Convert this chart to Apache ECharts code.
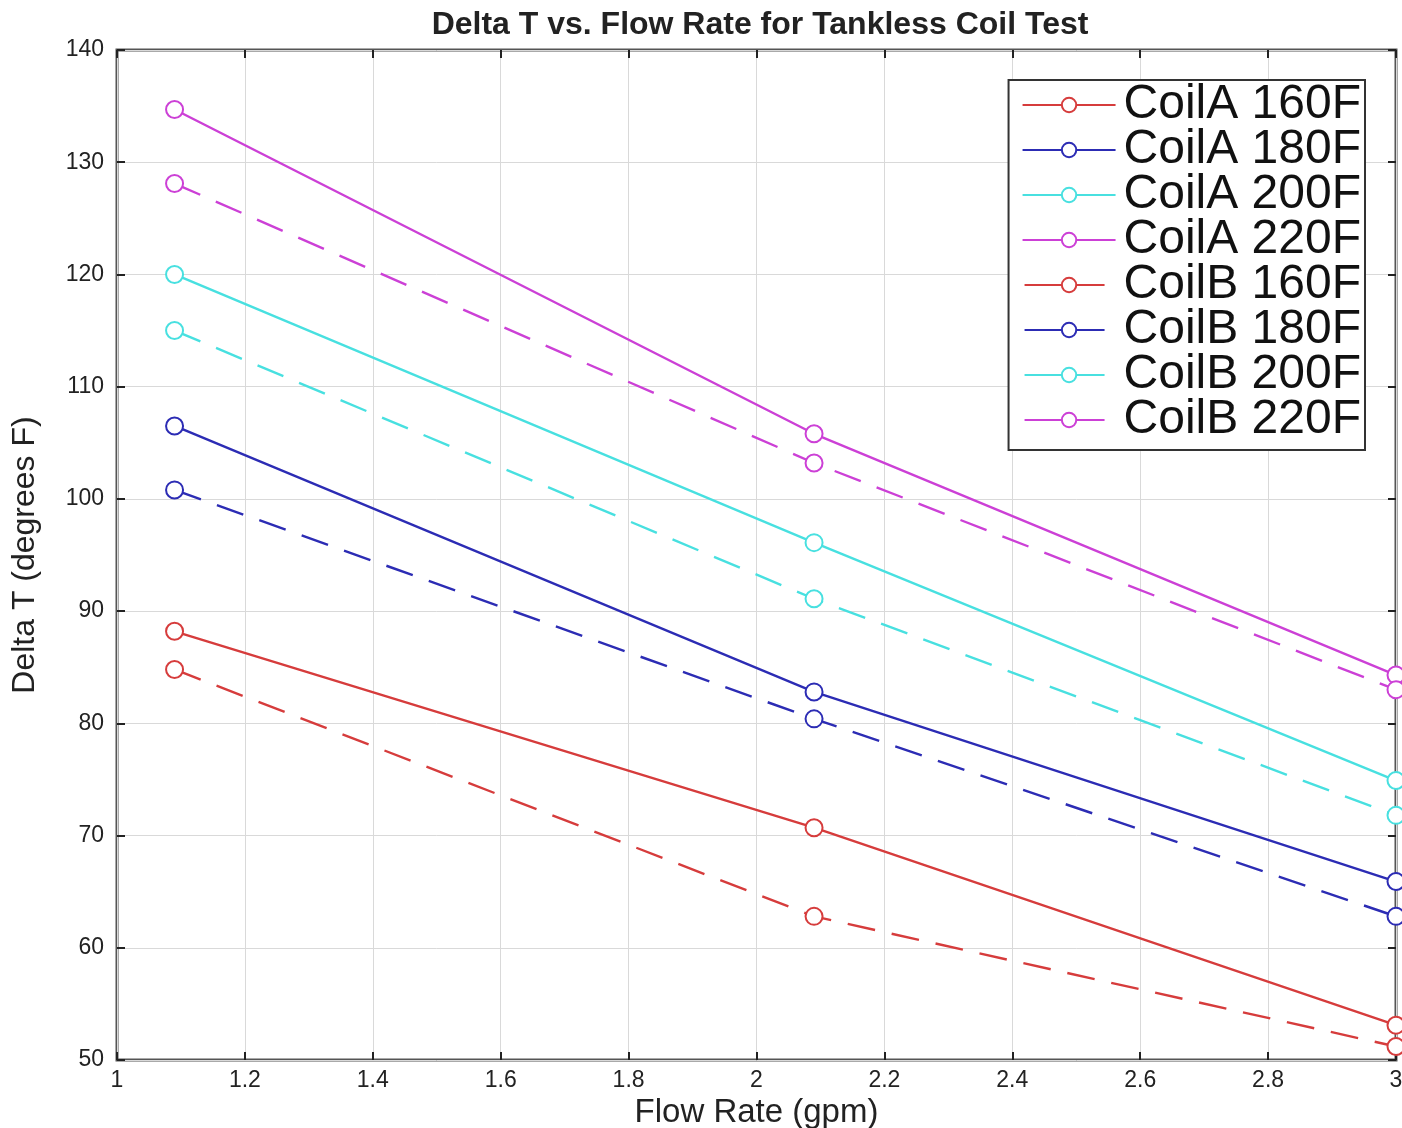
<!DOCTYPE html>
<html>
<head>
<meta charset="utf-8">
<script src="https://cdn.jsdelivr.net/npm/echarts@6/dist/echarts.min.js"></script>
<style>
  html, body { margin: 0; padding: 0; background: #fff; }
  #chart { width: 1402px; height: 1128px; }
</style>
</head>
<body>
<div id="chart"></div>
<script>
// Flow rates (gpm) at which each coil was tested
const flowRates = [1.09, 2.09, 3.0];

// Delta T (degrees F) per coil / boiler temperature
const coilA160 = [88.2, 70.7, 53.1];
const coilA180 = [106.5, 82.8, 65.9];
const coilA200 = [120.0, 96.1, 74.9];
const coilA220 = [134.7, 105.8, 84.3];
const coilB160 = [84.8, 62.8, 51.2];
const coilB180 = [100.8, 80.4, 62.8];
const coilB200 = [115.0, 91.1, 71.8];
const coilB220 = [128.1, 103.2, 83.0];

const seriesNames = ['CoilA 160F', 'CoilA 180F', 'CoilA 200F', 'CoilA 220F',
                     'CoilB 160F', 'CoilB 180F', 'CoilB 200F', 'CoilB 220F'];
const seriesValues = [coilA160, coilA180, coilA200, coilA220,
                      coilB160, coilB180, coilB200, coilB220];

const xTicks = { min: 1, max: 3, interval: 0.2 };
const yTicks = { min: 50, max: 140, interval: 10 };

const colors = ['#d63c3c', '#2c2cb4', '#48e0e0', '#cc40d6'];
const fontFam = '"Liberation Sans", Arial, sans-serif';

const series = seriesNames.map((name, i) => ({
  name: name,
  type: 'line',
  data: flowRates.map((x, j) => [x, seriesValues[i][j]]),
  symbol: 'emptyCircle',
  symbolSize: 17,
  color: colors[i % 4],
  lineStyle: { width: 2.4, type: i < 4 ? 'solid' : [28, 17] },
  itemStyle: { borderWidth: 2 },
  z: 3
}));

// Legend keys: solid ones span the full key, dashed ones a shorter stub
const legendData = seriesNames.map((name, i) => (i < 4
  ? { name: name }
  : { name: name, lineStyle: { type: [0, 2, 80, 200] } }));

const axisCommon = {
  type: 'value',
  axisLine: { show: false },
  axisTick: { show: true, inside: true, length: 8, lineStyle: { color: '#222', width: 2 } },
  splitLine: { show: false }
};

const chart = echarts.init(document.getElementById('chart'));
chart.setOption({
  backgroundColor: '#fff',
  animation: false,
  title: {
    text: 'Delta T vs. Flow Rate for Tankless Coil Test',
    left: 755, top: 4, textAlign: 'center',
    textStyle: { fontFamily: fontFam, fontSize: 32, fontWeight: 'bold', color: '#222' }
  },
  grid: {
    left: 117, right: 6, top: 50, bottom: 68,
    outerBoundsMode: 'none',
    show: true, borderColor: '#555', borderWidth: 3, backgroundColor: '#fff'
  },
  legend: {
    orient: 'vertical',
    right: 37, top: 80,
    padding: [1, 4, 6, 13],
    itemWidth: 93, itemHeight: 18, itemGap: -3,
    backgroundColor: '#fff',
    borderColor: '#333', borderWidth: 2,
    textStyle: { fontFamily: fontFam, fontSize: 48, color: '#111', lineHeight: 40, padding: [0, 0, 0, 3] },
    data: legendData
  },
  xAxis: [
    Object.assign({}, axisCommon, {
      min: xTicks.min, max: xTicks.max, interval: xTicks.interval,
      name: 'Flow Rate (gpm)', nameLocation: 'middle', nameGap: 36,
      nameTextStyle: { fontFamily: fontFam, fontSize: 33, color: '#222' },
      axisLabel: { fontFamily: fontFam, fontSize: 23, color: '#222', margin: 9,
                   formatter: v => String(Math.round(v * 10) / 10) },
      splitLine: { show: true, lineStyle: { color: '#d9d9d9', width: 1 } }
    }),
    Object.assign({}, axisCommon, {
      position: 'top',
      min: xTicks.min, max: xTicks.max, interval: xTicks.interval,
      axisLabel: { show: false }
    })
  ],
  yAxis: [
    Object.assign({}, axisCommon, {
      min: yTicks.min, max: yTicks.max, interval: yTicks.interval,
      name: 'Delta T (degrees F)', nameLocation: 'middle', nameGap: 76,
      nameTextStyle: { fontFamily: fontFam, fontSize: 32, color: '#222' },
      axisLabel: { fontFamily: fontFam, fontSize: 23, color: '#222', margin: 13 },
      splitLine: { show: true, lineStyle: { color: '#d9d9d9', width: 1 } }
    }),
    Object.assign({}, axisCommon, {
      position: 'right',
      min: yTicks.min, max: yTicks.max, interval: yTicks.interval,
      axisLabel: { show: false }
    })
  ],
  series: series
});
</script>
</body>
</html>
